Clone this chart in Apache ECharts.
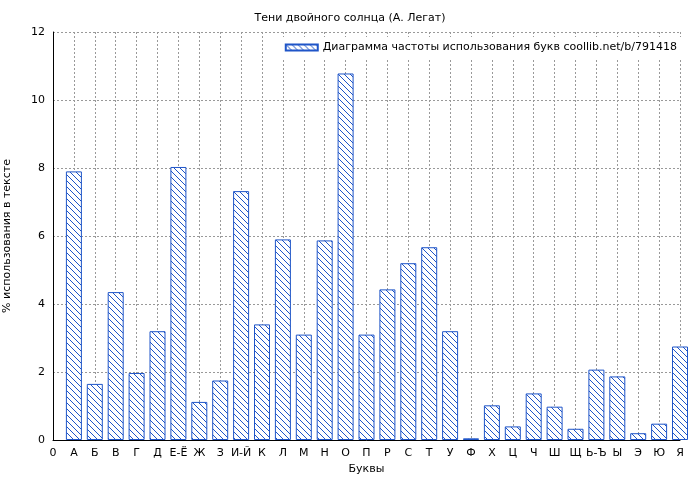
<!DOCTYPE html>
<html><head><meta charset="utf-8">
<script src="https://cdn.jsdelivr.net/npm/echarts@6/dist/echarts.min.js"></script>
<style>html,body{margin:0;background:#fff}#c{width:700px;height:480px}</style>
</head><body><div id="c"></div>
<script>
const categories = ['0','А','Б','В','Г','Д','Е-Ё','Ж','З','И-Й','К','Л','М','Н','О','П','Р','С','Т','У','Ф','Х','Ц','Ч','Ш','Щ','Ь-Ъ','Ы','Э','Ю','Я'];
const values = [null,7.9,1.65,4.35,1.97,3.2,8.03,1.12,1.75,7.32,3.4,5.9,3.1,5.87,10.78,3.1,4.43,5.2,5.67,3.2,0.05,1.02,0.4,1.37,0.98,0.33,2.07,1.87,0.2,0.48,2.75];
const yTicks = [0,2,4,6,8,10,12];

const pc = document.createElement('canvas'); pc.width = 6; pc.height = 6;
const g = pc.getContext('2d');
g.fillStyle = '#fff'; g.fillRect(0,0,6,6);
g.strokeStyle = '#1f55c8'; g.lineWidth = 1;
g.beginPath(); g.moveTo(-1,-1); g.lineTo(7,7); g.moveTo(-1,5); g.lineTo(1,7); g.moveTo(5,-1); g.lineTo(7,1); g.stroke();

const chart = echarts.init(document.getElementById('c'));
const font = 'DejaVu Sans';
const name = 'Диаграмма частоты использования букв coollib.net/b/791418';
chart.setOption({
  animation:false,
  textStyle:{fontFamily:font},
  title:{text:'Тени двойного солнца (А. Легат)',left:'center',top:8,textStyle:{fontSize:11,fontWeight:'normal',color:'#000',fontFamily:font}},
  legend:{top:37,right:18,itemWidth:32,itemHeight:6,itemGap:4,icon:'rect',backgroundColor:'#fff',
    textStyle:{fontSize:11,color:'#000',fontFamily:font},data:[name]},
  grid:{left:53,right:20,top:32,bottom:40,containLabel:false,outerBoundsMode:'none'},
  xAxis:{type:'value',min:0,max:categories.length-1,interval:1,
    axisLine:{lineStyle:{color:'#000'}},axisTick:{show:false},
    axisLabel:{color:'#000',fontSize:11,formatter:v=>categories[v]||''},
    splitLine:{show:true,lineStyle:{color:'#999',type:[2,2]}},
    name:'Буквы',nameLocation:'middle',nameGap:24,nameTextStyle:{color:'#000',fontSize:11}},
  yAxis:{type:'value',min:0,max:12,interval:2,
    axisLine:{show:true,lineStyle:{color:'#000'}},axisTick:{show:false},
    axisLabel:{color:'#000',fontSize:11},
    splitLine:{lineStyle:{color:'#999',type:[2,2]}},
    name:'% использования в тексте',nameLocation:'middle',nameGap:40,nameTextStyle:{color:'#000',fontSize:11}},
  series:[{name:name,type:'bar',data:values.map((v,i)=>[i,v]),barWidth:16,clip:true,
    itemStyle:{color:{image:pc,repeat:'repeat'},borderColor:'#1f55c8',borderWidth:1}}]
});
</script></body></html>
